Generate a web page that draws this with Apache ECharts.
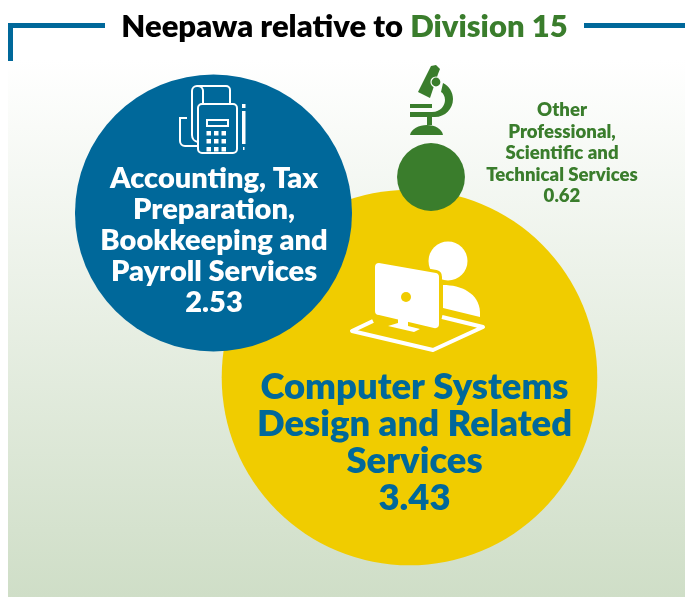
<!DOCTYPE html>
<html><head><meta charset="utf-8">
<style>html,body{margin:0;padding:0;background:#fff}#c{width:685px;height:597px}</style>
<script src="https://cdn.jsdelivr.net/npm/echarts@6/dist/echarts.min.js"></script>
</head><body><div id="c"></div>
<script>
const categories = ["Computer Systems\nDesign and Related\nServices", "Accounting, Tax\nPreparation,\nBookkeeping and\nPayroll Services", "Other\nProfessional,\nScientific and\nTechnical Services"];
const values = [3.43, 2.53, 0.62];
const centreX = [409.5, 213.5, 431];
const centreY = [377.5, 213, 177];
const colours = ["#f0cc00", "#00689a", "#3a7d2c"];
const titleStart = "Neepawa relative to ";
const titleEnd = "Division 15";
const FONT = "Lato";
const pxPerUnit = 109.5;
const labelStyles = [
  {color:"#00689a", fontSize:36.4, lineHeight:37, position:"inside", offset:[5,65]},
  {color:"#fff", fontSize:29, lineHeight:31, position:"inside", offset:[0.5,28]},
  {color:"#3a7d2c", fontSize:18.6, lineHeight:21.5, position:"inside", offset:[131,-24]}
];
const white = {fill:"#fff"};
const line = {fill:"none", stroke:"#fff", lineWidth:2};
let shapeId = 0;
function abs(d, style){
  const name = "icon" + (shapeId++);
  echarts.graphic.registerShape(name, echarts.graphic.extendPath(d, {}));
  return {type:name, shape:{}, style, z:10, silent:true};
}
const keys=[];
for(const y of [131,139,147]) for(const x of [206.5,214,221.5]) keys.push({type:"rect",shape:{x,y,width:4.5,height:4.5},style:white,z:10,silent:true});
const monitor = "M379 263l57 10a4 4 0 0 1 3 4v47a4 4 0 0 1-5 4l-55-13a4 4 0 0 1-4-4v-44a4 4 0 0 1 4-4z";
const graphics = [
  {type:"rect",shape:{x:8,y:60,width:677,height:537},style:{fill:{type:"linear",x:0,y:0,x2:0,y2:1,colorStops:[{offset:0,color:"#ffffff"},{offset:1,color:"#cfdec7"}]}},z:-10,silent:true},
  {type:"rect",shape:{x:8,y:23,width:97,height:5},style:{fill:"#00689a"},z:1,silent:true},
  {type:"rect",shape:{x:8,y:23,width:5,height:38},style:{fill:"#00689a"},z:1,silent:true},
  {type:"rect",shape:{x:584,y:23,width:101,height:5},style:{fill:"#00689a"},z:1,silent:true},
  // fax icon
  abs("M198 108a4 4 0 0 1 4-4h31a4 4 0 0 1 4 4v41a4 4 0 0 1-4 4h-31a4 4 0 0 1-4-4z",line),
  abs("M203 104V91M230 104V90a4 4 0 0 0-4-4H197a5 5 0 0 0-5 5v44a7 7 0 0 0 6 7",line),
  abs("M197 86a5 5 0 0 1 6 5",line),
  abs("M187 118h-7v23a5 5 0 0 0 5 5h13",line),
  {type:"rect",shape:{x:207,y:120,width:21,height:6},style:line,z:10,silent:true},
  {type:"rect",shape:{x:242,y:104,width:3.5,height:4},style:white,z:10,silent:true},
  {type:"rect",shape:{x:242,y:111,width:3.5,height:33},style:white,z:10,silent:true},
  {type:"rect",shape:{x:243,y:147,width:1.5,height:3},style:white,z:10,silent:true},
  ...keys,
  // microscope
  abs("M431 66l5-1 4 4-2 5-8 24-12-6z",{fill:"#3a7d2c"}),
  abs("M410 104h22v4h-22z",{fill:"#3a7d2c"}),
  abs("M410 112H432C441 112 445 105 445 100C445 96 443 93 441 92L443 83C449 86 453 92 453 99C453 109 445 117 435 117H432V125H427V117H410Z",{fill:"#3a7d2c"}),
  abs("M410 135C411 129 419 125 427 125C435 125 442 129 443 135Z",{fill:"#3a7d2c"}),
  {type:"circle",shape:{cx:436,cy:82,r:5},style:{fill:"#3a7d2c",stroke:"#fff",lineWidth:1.2},z:10,silent:true},
  // computer
  {type:"circle",shape:{cx:448,cy:261,r:19.5},style:white,z:10,silent:true},
  abs("M443 285c18 0 36 8 37 27v5l-37-9z",white),
  abs(monitor,{fill:"#f0cc00",stroke:"#f0cc00",lineWidth:6}),
  abs(monitor,white),
  {type:"circle",shape:{cx:406,cy:297,r:5},style:{fill:"#f0cc00"},z:11,silent:true},
  abs("M398 318l10 2v6l12 3-6 3-26-6 10-3z",white),
  abs("M373 321l-21 10 81 19 50-23-41-10",{fill:"none",stroke:"#fff",lineWidth:4,lineJoin:"round"})
];
const chart = echarts.init(document.getElementById("c"));
chart.setOption({
  animation:false,
  backgroundColor:"#fff",
  title:{text:"{a|"+titleStart+"}{b|"+titleEnd+"}",left:339.5,top:6,textAlign:"center",textStyle:{rich:{
    a:{fontFamily:FONT,fontWeight:800,fontSize:31,color:"#000"},
    b:{fontFamily:FONT,fontWeight:800,fontSize:31,color:"#3a7d2c"}}}},
  grid:{left:0,right:0,top:0,bottom:0},
  xAxis:{type:"value",min:0,max:685,show:false},
  yAxis:{type:"value",min:0,max:597,inverse:true,show:false},
  graphic:graphics,
  series:[{
    type:"scatter",
    clip:false,
    symbolSize:(v)=>v[2]*pxPerUnit,
    data:values.map((v,i)=>({
      value:[centreX[i],centreY[i],v],
      name:categories[i],
      itemStyle:{color:colours[i],opacity:1},
      label:{show:true,position:labelStyles[i].position,offset:labelStyles[i].offset,
        formatter:categories[i]+"\n"+v.toFixed(2),
        color:labelStyles[i].color,fontSize:labelStyles[i].fontSize,lineHeight:labelStyles[i].lineHeight,
        fontFamily:FONT,fontWeight:800,align:"center",verticalAlign:"middle"}
    }))
  }]
});
</script></body></html>
